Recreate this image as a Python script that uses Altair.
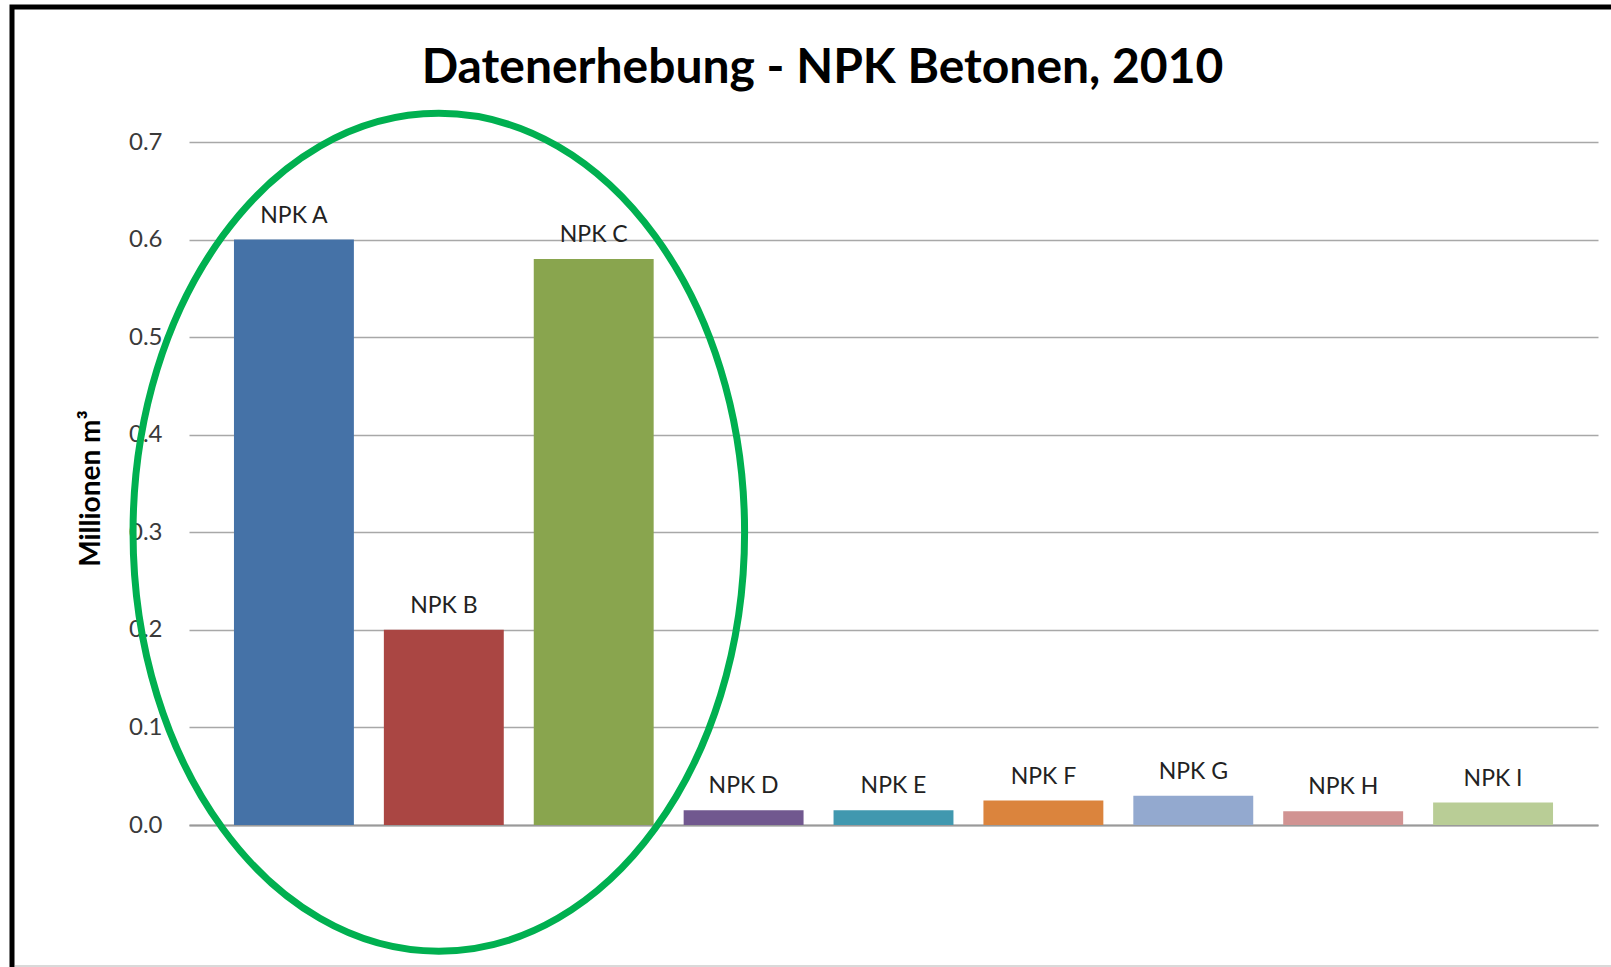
import altair as alt
import pandas as pd

# ---- data ----
categories = ["NPK A", "NPK B", "NPK C", "NPK D", "NPK E", "NPK F", "NPK G", "NPK H", "NPK I"]
values = [0.60, 0.20, 0.58, 0.015, 0.015, 0.025, 0.030, 0.014, 0.023]
bar_colors = ["#4572A7", "#AA4643", "#89A54E", "#71588F", "#4198AF",
              "#DB843D", "#93A9CF", "#D19392", "#B9CD96"]
y_ticks = [0.0, 0.1, 0.2, 0.3, 0.4, 0.5, 0.6, 0.7]

# highlight ellipse annotation (around NPK A-C)
ellipse_category = ["NPK B"]
ellipse_center = [0.3]

df = pd.DataFrame({"cat": categories, "val": values})
ell = pd.DataFrame({"cat": ellipse_category, "val": ellipse_center})

FONT = "Lato"
W, H = 1409, 683

x_enc = alt.X("cat:N", sort=categories,
              scale=alt.Scale(paddingInner=0.2, paddingOuter=0.3),
              axis=alt.Axis(labels=False, ticks=False, title=None, grid=False,
                            domain=True, domainColor="#9a9a9a", domainWidth=2))
y_enc = alt.Y("val:Q", scale=alt.Scale(domain=[0, 0.7], nice=False, zero=True),
              axis=alt.Axis(values=y_ticks, format=".1f", grid=True,
                            gridColor="#a8a8a8", gridWidth=1.5, domain=False,
                            ticks=False, tickSize=0, labelPadding=27,
                            labelFont=FONT, labelFontSize=24, labelColor="#3a3a3a",
                            title="Millionen m³", titleFont=FONT, titleFontSize=28,
                            titleFontWeight="bold", titleColor="#000000",
                            titleAngle=270, titleX=-90, titleY=346,
                            titleAlign="center", titleBaseline="alphabetic"))

base = alt.Chart(df)

bars = base.mark_bar().encode(
    x=x_enc,
    y=y_enc,
    color=alt.Color("cat:N", scale=alt.Scale(domain=categories, range=bar_colors),
                    legend=None),
)

labels = base.mark_text(font=FONT, fontSize=23, color="#222222",
                        baseline="alphabetic", align="center", dy=-17).encode(
    x=alt.X("cat:N", sort=categories),
    y="val:Q",
    text="cat:N",
)

ellipse_path = ("M 1 0 C 1 0.757 0.552 1.37 0 1.37 C -0.552 1.37 -1 0.757 -1 0 "
                "C -1 -0.757 -0.552 -1.37 0 -1.37 C 0.552 -1.37 1 -0.757 1 0 Z")
ellipse = alt.Chart(ell).mark_point(shape=ellipse_path, filled=False,
                                    stroke="#00B050", strokeWidth=7, opacity=1,
                                    size=374000, xOffset=-5).encode(
    x=alt.X("cat:N", sort=categories),
    y="val:Q",
)

frame = alt.Chart(ell).mark_rect(fill="white", fillOpacity=0, stroke="#000000",
                                 strokeWidth=5).encode(
    x=alt.value(-177), x2=alt.value(1460),
    y=alt.value(-135), y2=alt.value(1000),
)
bottom_line = alt.Chart(ell).mark_rule(color="#d9d9d9", strokeWidth=2).encode(
    x=alt.value(-174), x2=alt.value(1460), y=alt.value(824),
)

chart = alt.layer(bars, labels, ellipse, frame, bottom_line).properties(
    width=W, height=H,
    background="white",
    title=alt.TitleParams("Datenerhebung - NPK Betonen, 2010", font=FONT,
                          fontSize=48, fontWeight="bold", color="#000000",
                          anchor="middle", frame="group", dx=-71,
                          offset=-126, baseline="alphabetic"),
    autosize=alt.AutoSizeParams(type="none"),
    padding={"left": 189, "top": 142, "right": 13, "bottom": 142},
).configure_view(stroke=None)

chart.save("out.html", embed_options={"renderer": "svg", "actions": False})
